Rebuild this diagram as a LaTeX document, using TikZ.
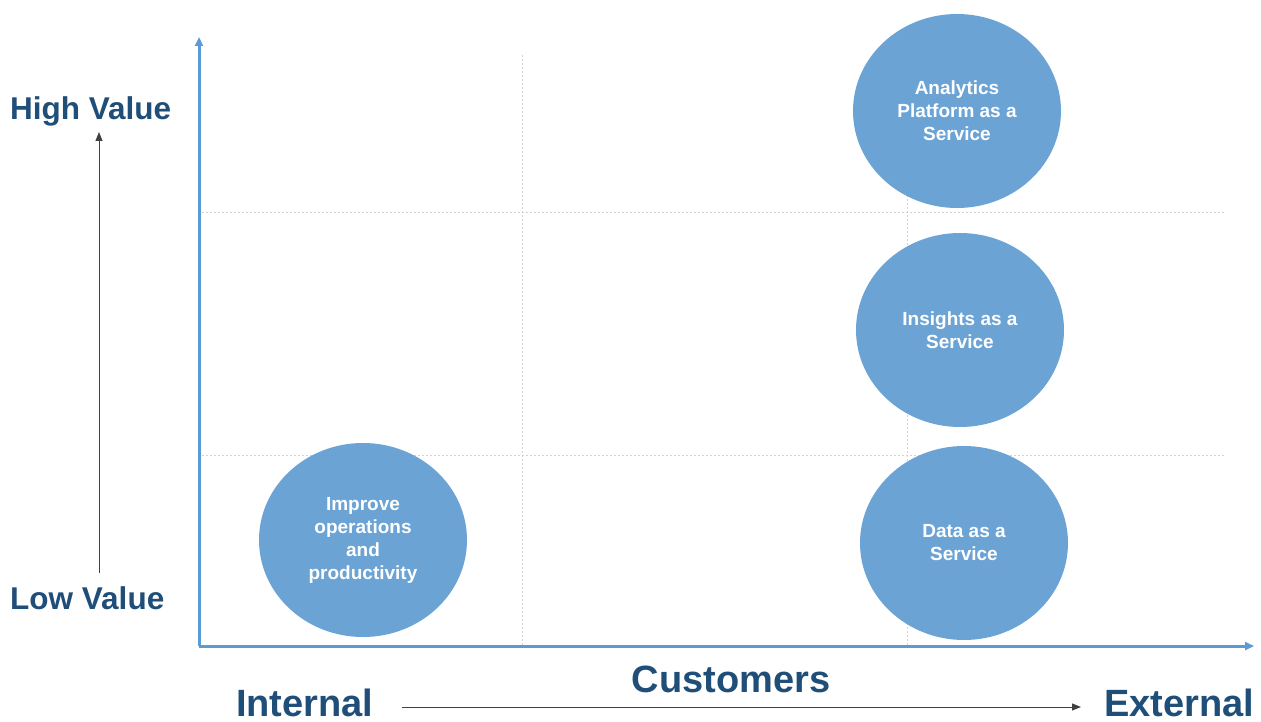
\documentclass[tikz,border=0pt]{standalone}
\usepackage{fontspec}
\setmainfont{Liberation Sans}
\usetikzlibrary{shapes.geometric,arrows.meta}

\definecolor{axisblue}{HTML}{5B9BD5}
\definecolor{bubble}{HTML}{66A0D3}
\definecolor{labelblue}{HTML}{1F4E79}

\begin{document}
\begin{tikzpicture}[x=1pt,y=-1pt,
    bubblenode/.style={ellipse, fill=bubble, fill opacity=0.97, text opacity=1,
      minimum width=208pt, minimum height=194pt, inner sep=0pt, text=white,
      align=center, font=\bfseries\fontsize{19}{23}\selectfont},
    gridline/.style={gray!35, line width=1pt, dash pattern=on 2pt off 2pt},
    axisline/.style={axisblue, line width=3pt, -{Triangle[length=9pt,width=8pt]}},
    bigword/.style={text=labelblue, font=\bfseries\fontsize{31.5}{36}\selectfont, inner sep=0pt},
    hugeword/.style={text=labelblue, font=\bfseries\fontsize{38}{44}\selectfont, inner sep=0pt},
    thinarrow/.style={black!75, line width=1pt, -{Triangle[length=9pt,width=7pt]}}]

	\useasboundingbox (0,0) rectangle (1261,722);

	% grid
	\foreach \gx in {522,907}{
	  \draw[gridline] (\gx,55) -- (\gx,645);
	}
	\foreach \gy in {213,455}{
	  \draw[gridline] (198,\gy) -- (1226,\gy);
	}

	% axes
	\coordinate (origin) at (199,646);
	\coordinate (ytop) at (199,37);
	\coordinate (xend) at (1254,646);
	\draw[axisline] (origin) -- (ytop);
	\draw[axisline] (origin) -- (xend);

	% bubbles
	\node[bubblenode] (analytics) at (957,111) {Analytics\\Platform as a\\Service};
	\node[bubblenode] (insights) at (960,330) {Insights as a\\Service};
	\node[bubblenode] (data) at (964,543) {Data as a\\Service};
	\node[bubblenode] (improve) at (363,540) {Improve\\operations\\and\\productivity};

	% value scale
	\node[bigword, anchor=base west] (hv) at (10,120) {High Value};
	\node[bigword, anchor=base west] (lv) at (10,609) {Low Value};
	\coordinate (vlo) at (99,573);
	\coordinate (vhi) at (99,132);
	\draw[thinarrow] (vlo) -- (vhi);

	% customer scale
	\node[hugeword, anchor=base] (cust) at (731,692) {Customers};
	\node[hugeword, anchor=base west] (int) at (236,716) {Internal};
	\node[hugeword, anchor=base west] (ext) at (1104,716) {External};
	\coordinate (clo) at (402,707);
	\coordinate (chi) at (1081,707);
	\draw[thinarrow] (clo) -- (chi);

\end{tikzpicture}
\end{document}
